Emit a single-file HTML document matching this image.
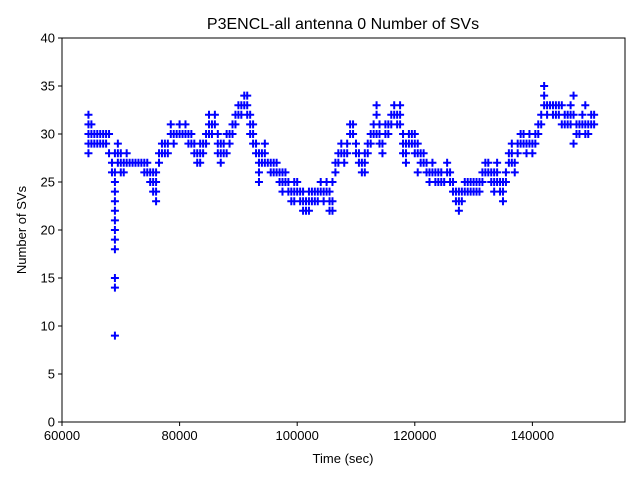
<!DOCTYPE html>
<html><head><meta charset="utf-8"><style>
body{margin:0;background:#fff;}
svg{display:block;font-family:"Liberation Sans","DejaVu Sans",sans-serif;}
</style></head><body>
<svg id="chart" width="640" height="480">
<rect width="640" height="480" fill="#fff"/>
<text x="343" y="29" text-anchor="middle" font-size="16">P3ENCL-all antenna 0 Number of SVs</text>
<g id="marks"></g>
<g id="axes"></g>
<text x="343" y="463" text-anchor="middle" font-size="13">Time (sec)</text>
<text transform="translate(26,230) rotate(-90)" text-anchor="middle" font-size="13">Number of SVs</text>
</svg>
<script>
const xTicks=[60000,80000,100000,120000,140000];
const yTicks=[0,5,10,15,20,25,30,35,40];
const groupTimes=[64.5,65,65.5,66,66.5,67,67.5,68,68.5,69,69.5,70,70.5,71,71.5,72,72.5,73,73.5,74,74.5,75,75.5,76,76.5,77,77.5,78,78.5,79,79.5,80,80.5,81,81.5,82,82.5,83,83.5,84,84.5,85,85.5,86,86.5,87,87.5,88,88.5,89,89.5,90,90.5,91,91.5,92,92.5,93,93.5,94,94.5,95,95.5,96,96.5,97,97.5,98,98.5,99,99.5,100,100.5,101,101.5,102,102.5,103,103.5,104,104.5,105,105.5,106,106.5,107,107.5,108,108.5,109,109.5,110,110.5,111,111.5,112,112.5,113,113.5,114,114.5,115,115.5,116,116.5,117,117.5,118,118.5,119,119.5,120,120.5,121,121.5,122,122.5,123,123.5,124,124.5,125,125.5,126,126.5,127,127.5,128,128.5,129,129.5,130,130.5,131,131.5,132,132.5,133,133.5,134,134.5,135,135.5,136,136.5,137,137.5,138,138.5,139,139.5,140,140.5,141,141.5,142,142.5,143,143.5,144,144.5,145,145.5,146,146.5,147,147.5,148,148.5,149,149.5,150,150.5,151];
const groupValues=[[31,30,32,29,28],[31,30,29],[30,29],[30,29],[29,30],[29,30],[30,29],[30,28],[27,26],[26,25,22,21,20,19,18,15,14,9,24,23,28],[28,27,29],[28,27,26],[27,26],[27,28],[27],[27],[27],[27],[27],[27,26],[27,26],[26,25],[25,24,26],[24,23,25,26],[27,28],[28,29],[28,29],[29,28],[30,31],[30,29],[30],[30,31],[30],[30,31],[30,29],[30,29],[29,28],[28,27],[28,27,29],[29,28],[30,29],[31,30,32],[31,30],[32,31],[30,29,28],[29,28,27],[29,28],[30,28],[30,29],[31,30],[31,32],[32,33],[32,33],[33,34],[33,34,32],[31,30,32],[31,30,29],[29,28],[28,27,26,25],[28,27],[27,28,29],[27],[27,26],[27,26],[27,26],[26,25],[25,24,26],[26,25],[25,24],[24,23],[24,23,25],[25,24],[24,23],[24,22,23],[23,22],[24,23,22],
[23,24],[24,23],[24,23],[24,25],[24,23],[24,25],[23,24,22],[22,23,25],[26,27],[27,28],[28,29],[28,27],[28,29],[30,31],[30,31],[29,28],[28,27],[27,26],[26,27,28],[28,29],[29,30],[30,31],[32,33,30],[31,30,29],[29,28],[30,31],[30,31],[32,31],[32,33],[31,32],[33,32,31],[29,28,30],[28,27,29],[30,29],[30,29],[30,29,28],[29,28,26],[28,27],[28,27],[27,26],[26,25],[27,26],[26,25],[25,26],[25,26],[25],[26,27],[26,25],[25,24],[24,23],[22,23,24],[24,23],[24,25],[24,25],[24,25],[25,24],[24,25],[25,24],[25,26],[26,27],[27,26],[26,25],[26,25,24],[25,26,27],[25,24],[25,24,23],[25,26],[27,28],[28,27,29],[27,26],[28,29],[29,30],[29,30],[29,28],[29,30],[28,29],[29,30],[30,31],[31,32],[33,34,35],[33,32],[33],[33,32],[32,33],[33,32],[33,31],[32,31],[31,32],[31,32,33],[32,34,29],[31,30],[31,30],[31,32],[31,33,30],[31,30],[31,32],[32,31]];
const NS="http://www.w3.org/2000/svg";
const L=62,R=625,T=38,B=422,XMIN=60000,XMAX=155750,YMIN=0,YMAX=40;
function xs(v){return L+(v-XMIN)/(XMAX-XMIN)*(R-L);}
function ys(v){return B-(v-YMIN)/(YMAX-YMIN)*(B-T);}
const marks=document.getElementById('marks');
let d='';
groupTimes.forEach((t,i)=>{(groupValues[i]||[]).forEach(v=>{const x=xs(t*1000),y=ys(v);d+=`M${x-4},${y}h8M${x},${y-4}v8`;});});
const p=document.createElementNS(NS,'path');
p.setAttribute('d',d);p.setAttribute('stroke','#0000ff');p.setAttribute('stroke-width','2');p.setAttribute('fill','none');


marks.appendChild(p);
const axes=document.getElementById('axes');
const frame=document.createElementNS(NS,'rect');
frame.setAttribute('x',L);frame.setAttribute('y',T);frame.setAttribute('width',R-L);frame.setAttribute('height',B-T);
frame.setAttribute('fill','none');frame.setAttribute('stroke','#000');frame.setAttribute('stroke-width','1');


axes.appendChild(frame);
xTicks.forEach(v=>{const x=xs(v);
const l=document.createElementNS(NS,'line');l.setAttribute('x1',x);l.setAttribute('x2',x);l.setAttribute('y1',B);l.setAttribute('y2',B+4);l.setAttribute('stroke','#000');


axes.appendChild(l);
const tx=document.createElementNS(NS,'text');tx.setAttribute('x',x);tx.setAttribute('y',B+18);tx.setAttribute('text-anchor','middle');tx.setAttribute('font-size','13');tx.textContent=v;


axes.appendChild(tx);});
yTicks.forEach(v=>{const y=ys(v);
const l=document.createElementNS(NS,'line');l.setAttribute('x1',L-4);l.setAttribute('x2',L);l.setAttribute('y1',y);l.setAttribute('y2',y);l.setAttribute('stroke','#000');


axes.appendChild(l);
const tx=document.createElementNS(NS,'text');tx.setAttribute('x',L-7);tx.setAttribute('y',y+4.5);tx.setAttribute('text-anchor','end');tx.setAttribute('font-size','13');tx.textContent=v;


axes.appendChild(tx);});
</script>
</body></html>
